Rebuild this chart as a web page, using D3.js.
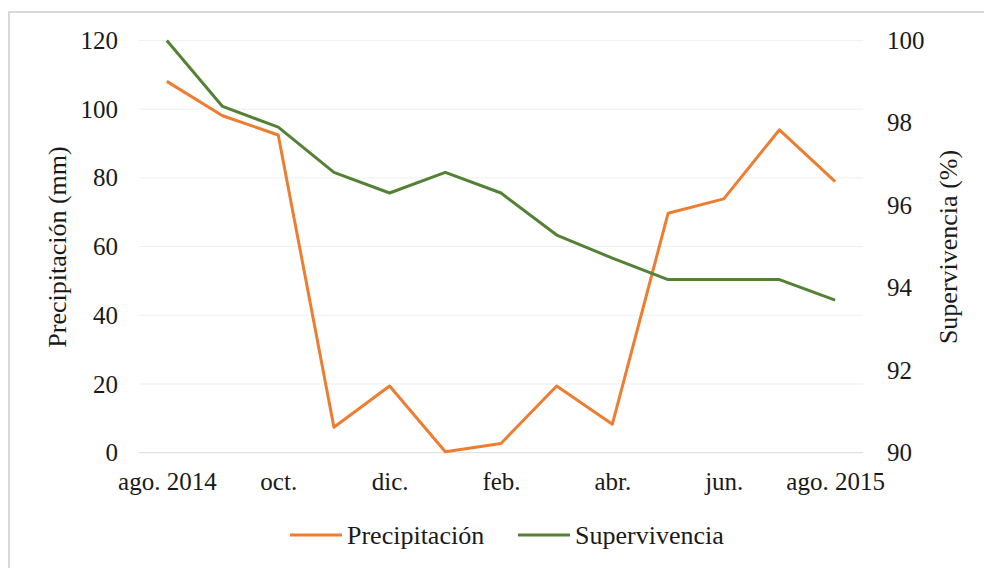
<!DOCTYPE html>
<html><head><meta charset="utf-8">
<script src="https://cdn.jsdelivr.net/npm/d3@7/dist/d3.min.js"></script>
<style>body{margin:0;background:#fff}svg{display:block}</style>
</head><body><svg id="c" width="984" height="568"></svg>
<script>
const months = ["ago. 2014","sep.","oct.","nov.","dic.","ene.","feb.","mar.","abr.","may.","jun.","jul.","ago. 2015"];
const xTickLabels = ["ago. 2014","oct.","dic.","feb.","abr.","jun.","ago. 2015"];
const precipitacion = [108.1, 98.1, 92.5, 7.4, 19.4, 0.3, 2.7, 19.4, 8.3, 69.7, 73.9, 94.0, 78.9];
const supervivencia = [100, 98.4, 97.9, 96.8, 96.3, 96.8, 96.3, 95.28, 94.72, 94.2, 94.2, 94.2, 93.7];
const leftTicks = [0,20,40,60,80,100,120];
const rightTicks = [90,92,94,96,98,100];
const seriesNames = ["Precipitación","Supervivencia"];
const colors = ["#ED7D31","#548235"];

const FONT = '"Liberation Serif", "Times New Roman", serif';
const svg = d3.select("#c");
const L = 139, R = 863, T = 40.5, B = 452.7;
const x = d3.scalePoint().domain(months).range([L, R]).padding(0.5);
const yL = d3.scaleLinear().domain([0,120]).range([B, T]);
const yR = d3.scaleLinear().domain([90,100]).range([B, T]);
const fs = 25, fsT = 26;

// border
svg.append("rect").attr("x",9).attr("y",12).attr("width",1000).attr("height",600)
  .attr("fill","none").attr("stroke","#d9d9d9").attr("stroke-width",2);

// gridlines
svg.append("g").selectAll("line").data(leftTicks.filter(d=>d>0)).join("line")
  .attr("x1",L).attr("x2",R).attr("y1",d=>yL(d)).attr("y2",d=>yL(d))
  .attr("stroke","#efefef").attr("stroke-width",1);
svg.append("line").attr("x1",L).attr("x2",R).attr("y1",yL(0)).attr("y2",yL(0))
  .attr("stroke","#d9d9d9").attr("stroke-width",1);

function styleAxis(g){
  g.attr("font-family", null);
  g.select(".domain").remove();
  g.selectAll("text").style("font-family",FONT).style("font-size",fs+"px").attr("fill","#1a1a1a");
}
// left axis
svg.append("g").attr("transform",`translate(${L},0)`)
  .call(d3.axisLeft(yL).tickValues(leftTicks).tickSize(0).tickPadding(21)).call(styleAxis);
// right axis
svg.append("g").attr("transform",`translate(${R},0)`)
  .call(d3.axisRight(yR).tickValues(rightTicks).tickSize(0).tickPadding(24)).call(styleAxis);
// bottom axis
svg.append("g").attr("transform",`translate(0,${B})`)
  .call(d3.axisBottom(x).tickValues(xTickLabels).tickSize(0).tickPadding(20)).call(styleAxis);

// axis titles
svg.append("text").attr("transform",`translate(66,247) rotate(-90)`).attr("text-anchor","middle")
  .style("font-family",FONT).style("font-size",fsT+"px").attr("fill","#1a1a1a").text("Precipitación (mm)");
svg.append("text").attr("transform",`translate(957,247) rotate(-90)`).attr("text-anchor","middle")
  .style("font-family",FONT).style("font-size",fsT+"px").attr("fill","#1a1a1a").text("Supervivencia (%)");

// lines
const lineL = d3.line().x((d,i)=>x(months[i])).y(d=>yL(d));
const lineR = d3.line().x((d,i)=>x(months[i])).y(d=>yR(d));
svg.append("path").datum(precipitacion).attr("d",lineL).attr("fill","none")
  .attr("stroke",colors[0]).attr("stroke-width",3).attr("stroke-linejoin","round");
svg.append("path").datum(supervivencia).attr("d",lineR).attr("fill","none")
  .attr("stroke",colors[1]).attr("stroke-width",3).attr("stroke-linejoin","round");

// legend
const legX = [290, 518];
const lg = svg.append("g");
seriesNames.forEach((n,i)=>{
  lg.append("line").attr("x1",legX[i]).attr("x2",legX[i]+52).attr("y1",535).attr("y2",535)
    .attr("stroke",colors[i]).attr("stroke-width",3);
  lg.append("text").attr("x",legX[i]+57).attr("y",535).attr("dy","0.35em")
    .style("font-family",FONT).style("font-size",fsT+"px").attr("fill","#1a1a1a").text(n);
});
</script></body></html>
